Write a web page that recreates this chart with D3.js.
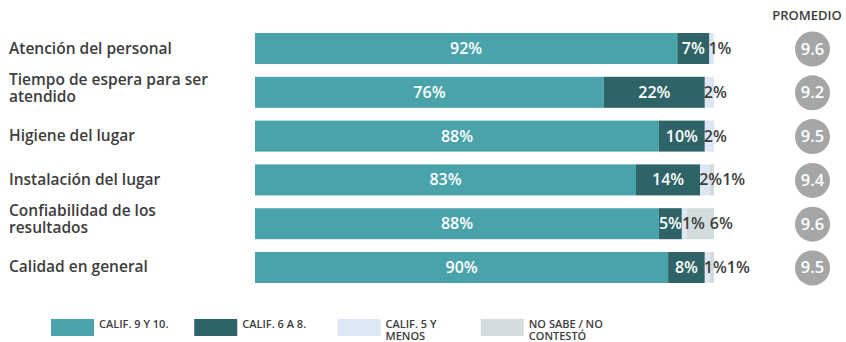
<!DOCTYPE html>
<html>
<head>
<meta charset="utf-8">
<script src="https://cdn.jsdelivr.net/npm/d3@7/dist/d3.min.js"></script>
<style>
  html, body { margin: 0; padding: 0; background: #ffffff; }
  svg { display: block; font-family: "Open Sans", Lato, sans-serif; }
</style>
</head>
<body>
<svg id="chart" width="846" height="342"></svg>
<script>
// Survey categories (line breaks as drawn)
const categories = [
  ["Atención del personal"],
  ["Tiempo de espera para ser", "atendido"],
  ["Higiene del lugar"],
  ["Instalación del lugar"],
  ["Confiabilidad de los", "resultados"],
  ["Calidad en general"]
];
const seriesNames = [["CALIF. 9 Y 10."], ["CALIF. 6 A 8."], ["CALIF. 5 Y", "MENOS"], ["NO SABE / NO", "CONTESTÓ"]];
const calif9y10  = [92, 76, 88, 83, 88, 90];
const calif6a8   = [7, 22, 10, 14, 5, 8];
const calif5     = [1, 2, 2, 2, 1, 1];
const noSabe     = [0, 0, 0, 1, 6, 1];
const promedio   = [9.6, 9.2, 9.5, 9.4, 9.6, 9.5];

const colors = ["#4aa3aa", "#2e6467", "#dde6f5", "#d3dcdc"];
const textDark = "#3d3d3d";

const svg = d3.select("#chart");
const series = [calif9y10, calif6a8, calif5, noSabe];
const keys = categories.map((c, i) => i);

const x = d3.scaleLinear().domain([0, 100]).range([255, 714]);
const y = d3.scaleBand().domain(keys).range([33, 283]).paddingInner(0.292).paddingOuter(0);
const bh = y.bandwidth();

// Stack rows
const rows = keys.map(i => {
  let acc = 0;
  return series.map((s, k) => {
    const seg = { row: i, k, v: s[i], x0: acc, x1: acc + s[i] };
    acc += s[i];
    return seg;
  });
});

// Category labels
const catG = svg.append("g");
keys.forEach(i => {
  const lines = categories[i];
  const c = y(i) + bh / 2;
  const t = catG.append("text")
    .attr("x", 9)
    .attr("fill", textDark)
    .attr("font-size", 15.5)
    .attr("font-weight", 600);
  lines.forEach((ln, j) => {
    const base = lines.length === 1 ? c + 5 : c - 7.5 + j * 17;
    t.append("tspan").attr("x", 9).attr("y", base).text(ln);
  });
});

// Bars
const barG = svg.append("g");
rows.forEach(segs => {
  barG.selectAll(null)
    .data(segs.filter(d => d.v > 0))
    .join("rect")
    .attr("x", d => x(d.x0))
    .attr("y", d => y(d.row))
    .attr("width", d => x(d.x1) - x(d.x0))
    .attr("height", bh)
    .attr("fill", d => colors[d.k]);
});

// Value labels
const labG = svg.append("g").attr("font-size", 16).attr("font-weight", 600);
rows.forEach(segs => {
  let prevEnd = -Infinity;
  segs.filter(d => d.v > 0).forEach(d => {
    const cy = y(d.row) + bh / 2 + 5.5;
    const txt = labG.append("text").attr("y", cy).text(d.v + "%");
    const w = txt.node().getComputedTextLength();
    const sx = x(d.x0), ex = x(d.x1);
    if (d.k < 2) {
      const cx = (sx + ex) / 2;
      txt.attr("x", cx).attr("text-anchor", "middle").attr("fill", "#ffffff");
      prevEnd = cx + w / 2;
    } else {
      const start = Math.max(sx - 1, prevEnd + (d.k === 3 && d.v > 3 ? 5 : 0));
      txt.attr("x", start).attr("fill", textDark);
      prevEnd = start + w;
    }
  });
});

// Average column
const avgG = svg.append("g");
avgG.append("text")
  .attr("x", 807).attr("y", 19.5)
  .attr("text-anchor", "middle")
  .attr("font-size", 13)
  .attr("font-weight", 600)
  .attr("fill", textDark)
  .text("PROMEDIO");
keys.forEach(i => {
  const cy = y(i) + bh / 2 + 0.5;
  avgG.append("circle").attr("cx", 812.5).attr("cy", cy).attr("r", 17.5).attr("fill", "#a5a7a7");
  avgG.append("text")
    .attr("x", 812.5).attr("y", cy + 5.5)
    .attr("text-anchor", "middle")
    .attr("font-size", 16.5)
    .attr("font-weight", 600)
    .attr("fill", "#ffffff")
    .text(d3.format(".1f")(promedio[i]));
});

// Legend
const lx = d3.scaleBand().domain(d3.range(seriesNames.length)).range([51, 624]);
const legG = svg.append("g");
seriesNames.forEach((lines, k) => {
  const gx = lx(k);
  legG.append("rect").attr("x", gx).attr("y", 319).attr("width", 43).attr("height", 17).attr("fill", colors[k]);
  const t = legG.append("text")
    .attr("font-size", 11)
    .attr("font-weight", 600)
    .attr("fill", textDark);
  lines.forEach((ln, j) => {
    t.append("tspan").attr("x", gx + 48).attr("y", 328 + j * 11.5).text(ln);
  });
});
</script>
</body>
</html>
